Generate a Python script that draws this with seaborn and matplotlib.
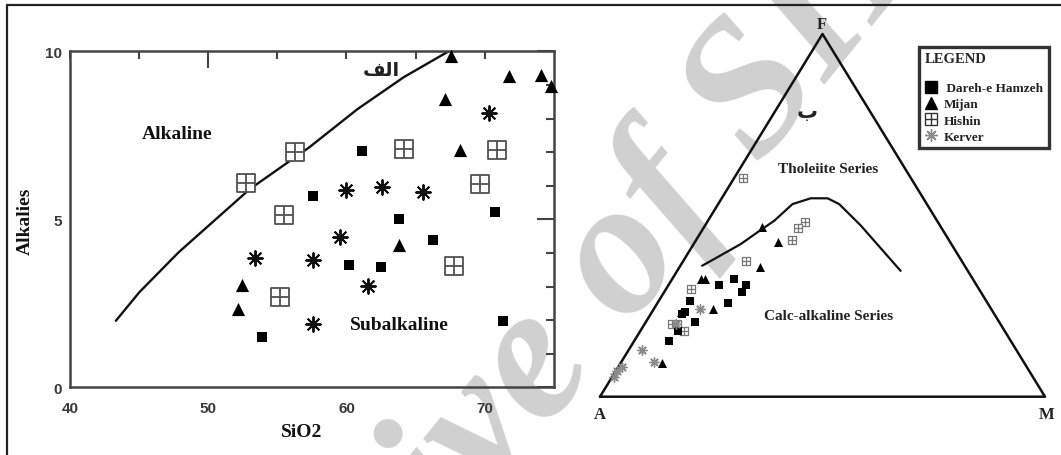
import numpy as np
import pandas as pd
import matplotlib
matplotlib.use("Agg")
import matplotlib.pyplot as plt
import seaborn as sns
from matplotlib.lines import Line2D
from matplotlib.font_manager import FontProperties

# ---------------- data: left panel (SiO2 vs Alkalies) ----------------
dareh_sio2 = [61.1, 57.55, 63.8, 70.75, 66.3, 60.2, 62.5, 53.85, 71.3]
dareh_alk = [7.04, 5.68, 5.01, 5.21, 4.38, 3.65, 3.59, 1.49, 1.98]
mijan_sio2 = [67.6, 71.8, 74.1, 74.8, 67.1, 68.2, 63.8, 52.4, 52.15]
mijan_alk = [9.87, 9.27, 9.29, 8.96, 8.58, 7.07, 4.24, 3.04, 2.33]
hishin_sio2 = [52.75, 56.25, 55.5, 55.2, 64.2, 70.9, 69.7, 67.8]
hishin_alk = [6.07, 6.99, 5.13, 2.68, 7.09, 7.06, 6.05, 3.62]
kerver_sio2 = [59.95, 62.6, 65.55, 70.3, 59.55, 53.4, 57.6, 61.55, 57.6]
kerver_alk = [5.87, 5.97, 5.82, 8.15, 4.48, 3.86, 3.78, 3.01, 1.88]
boundary_sio2 = [43.3, 45.0, 47.85, 53.0, 57.3, 60.8, 64.15, 67.4]
boundary_alk = [1.98, 2.83, 4.02, 5.90, 7.14, 8.28, 9.23, 10.0]

# ---------------- data: right panel (AFM, percent) ----------------
dareh_A = [53.6, 51.8, 53.7, 57.9, 66.5, 58.4, 69.2, 70.2, 68.3, 73.5, 76.9]
dareh_F = [32.4, 30.8, 28.8, 30.8, 26.5, 25.8, 23.3, 22.8, 20.5, 18.0, 15.4]
dareh_M = [14.0, 17.4, 17.5, 11.3, 7.0, 15.8, 7.5, 7.0, 11.2, 8.5, 7.7]
mijan_A = [40.2, 38.6, 46.2, 61.2, 60.3, 62.4, 81.5, 70.0]
mijan_F = [46.9, 42.7, 35.7, 32.4, 32.4, 24.2, 9.2, 23.4]
mijan_M = [12.9, 18.7, 18.1, 6.4, 7.3, 13.4, 9.3, 6.6]
hishin_A = [37.8, 29.8, 32.4, 35.1, 48.5, 64.7, 73.8, 72.7, 72.1]
hishin_F = [60.2, 48.2, 46.4, 43.3, 37.5, 29.7, 20.0, 20.0, 18.2]
hishin_M = [2.0, 22.0, 21.2, 21.6, 14.0, 5.6, 6.2, 7.3, 9.7]
kerver_A = [65.5, 84.1, 83.1, 91.1, 92.5, 94.2, 73.0]
kerver_F = [24.2, 13.0, 9.5, 8.1, 7.2, 5.3, 20.0]
kerver_M = [10.3, 2.9, 7.4, 0.8, 0.3, 0.5, 7.0]
tholeiite_A = [59.0, 54.5, 47.3, 42.0, 36.6, 30.2, 25.3, 21.5, 19.7, 17.8, 15.1]
tholeiite_F = [36.1, 38.4, 42.1, 45.3, 48.5, 53.1, 54.7, 54.7, 53.1, 47.2, 34.7]
tholeiite_M = [4.9, 7.1, 10.6, 12.7, 14.9, 16.7, 20.0, 23.8, 27.2, 35.0, 50.2]
frame_A = [100, 0, 0, 100]
frame_F = [0, 100, 0, 0]
frame_M = [0, 0, 100, 0]

legend_labels = [" Dareh-e Hamzeh", "Mijan", "Hishin", "Kerver"]

sns.set_style("white")
plt.rcParams["font.family"] = ["Liberation Serif", "DejaVu Sans"]

W, H = 1061, 456
fig = plt.figure(figsize=(W / 100, H / 100), dpi=100)


def fx(px):
    return px / W


def fy(py):
    return 1 - py / H


def tern(A, F, M):
    A, F, M = (np.asarray(v, float) for v in (A, F, M))
    tot = A + F + M
    return (M + 0.5 * F) / tot, F / tot


serif_b = dict(family="Liberation Serif", weight="bold")
INK = "#111111"

# ======================= LEFT PANEL =======================
axL = fig.add_axes([fx(70.3), fy(388.3), (553.6 - 70.3) / W, (388.3 - 52.3) / H])
axL.set_facecolor("none")

sns.lineplot(x=boundary_sio2, y=boundary_alk, sort=False, estimator=None,
             color=INK, linewidth=1.7, ax=axL, zorder=2)
sns.scatterplot(x=dareh_sio2, y=dareh_alk, marker="s", s=55, color="black",
                linewidth=0, ax=axL, zorder=3)
sns.scatterplot(x=mijan_sio2, y=mijan_alk, marker="^", s=90, color="black",
                linewidth=0, ax=axL, zorder=3, clip_on=False)
sns.scatterplot(x=hishin_sio2, y=hishin_alk, marker="s", s=150, facecolor="white",
                edgecolor="#505050", linewidth=1.3, ax=axL, zorder=3)
sns.scatterplot(x=hishin_sio2, y=hishin_alk, marker="+", s=150, color="#505050",
                linewidth=1.3, ax=axL, zorder=4)
sns.scatterplot(x=kerver_sio2, y=kerver_alk, marker=(8, 2, 0), s=110, color=INK,
                linewidth=1.4, ax=axL, zorder=3)

axL.set_xlim(40, 75)
axL.set_ylim(0, 10)
axL.set_xticks([40, 50, 60, 70])
axL.set_xticks([45, 55, 65], minor=True)
axL.set_yticks([0, 5, 10])
axL.set_yticks(range(0, 11), minor=True)
axL.set_xlabel("")
axL.set_ylabel("")
for sp in axL.spines.values():
    sp.set_visible(True)
    sp.set_linewidth(1.8)
    sp.set_color("#444444")
axL.tick_params(which="both", direction="in", top=True, right=True,
                color="#444444", width=1.5)
axL.tick_params(axis="x", which="both", length=6, pad=10)
axL.tick_params(axis="y", which="minor", length=6)
axL.tick_params(axis="y", which="major", length=12, pad=6)
for lab in axL.get_xticklabels() + axL.get_yticklabels():
    lab.set_fontfamily("Liberation Sans")
    lab.set_fontweight("bold")
    lab.set_fontsize(11)
    lab.set_color("#3a3a3a")
t50 = axL.xaxis.get_major_ticks()[1]
t50.tick1line.set_markersize(12)
t50.tick2line.set_markersize(12)

axL.text(47.7, 7.54, "Alkaline", fontsize=14, ha="center", va="center", color=INK, **serif_b)
axL.text(63.8, 1.88, "Subalkaline", fontsize=14, ha="center", va="center", color=INK, **serif_b)
axL.text(62.5, 9.45, "\uFED2\uFEDF\uFE8D", fontsize=14, ha="center", va="center",
         family="DejaVu Sans", weight="bold", color="#222222")
fig.text(fx(301.8), fy(433), "SiO2", fontsize=14, ha="center", va="center", color=INK, **serif_b)
fig.text(fx(25), fy(221), "Alkalies", fontsize=14, rotation=90, ha="center", va="center",
         color=INK, **serif_b)

# ======================= RIGHT PANEL =======================
axR = fig.add_axes([fx(600), fy(397.7), 445 / W, 362.7 / H])
axR.set_facecolor("none")
axR.set_xlim(0, 1)
axR.set_ylim(0, 1)
axR.axis("off")

fxr, fyr = tern(frame_A, frame_F, frame_M)
sns.lineplot(x=fxr, y=fyr, sort=False, estimator=None, color=INK, linewidth=1.8,
             ax=axR, zorder=2)
for coll in axR.lines:
    coll.set_clip_on(False)
bx, by = tern(tholeiite_A, tholeiite_F, tholeiite_M)
sns.lineplot(x=bx, y=by, sort=False, estimator=None, color=INK, linewidth=1.6,
             ax=axR, zorder=2)

hx, hy = tern(hishin_A, hishin_F, hishin_M)
sns.scatterplot(x=hx, y=hy, marker="s", s=32, facecolor="white", edgecolor="#777777",
                linewidth=0.9, ax=axR, zorder=3, clip_on=False)
sns.scatterplot(x=hx, y=hy, marker="+", s=32, color="#777777", linewidth=0.9,
                ax=axR, zorder=4, clip_on=False)
dx, dy = tern(dareh_A, dareh_F, dareh_M)
sns.scatterplot(x=dx, y=dy, marker="s", s=30, color="black", linewidth=0,
                ax=axR, zorder=5, clip_on=False)
mx, my = tern(mijan_A, mijan_F, mijan_M)
sns.scatterplot(x=mx, y=my, marker="^", s=42, color="black", linewidth=0,
                ax=axR, zorder=5, clip_on=False)
kx, ky = tern(kerver_A, kerver_F, kerver_M)
sns.scatterplot(x=kx, y=ky, marker=(8, 2, 0), s=45, color="#8a8a8a", linewidth=1.0,
                ax=axR, zorder=5, clip_on=False)

fig.text(fx(821.7), fy(25), "F", fontsize=12, ha="center", va="center", color="#222222", **serif_b)
fig.text(fx(600), fy(415), "A", fontsize=12, ha="center", va="center", color="#222222", **serif_b)
fig.text(fx(1046.7), fy(415), "M", fontsize=12, ha="center", va="center", color="#222222", **serif_b)
fig.text(fx(806.7), fy(112), "\u0628", fontsize=15, ha="center", va="center",
         family="DejaVu Sans", weight="bold", color="#222222")
fig.text(fx(828.3), fy(170), "Tholeiite Series", fontsize=11, ha="center", va="center",
         color="#222222", **serif_b)
fig.text(fx(828.3), fy(316.7), "Calc-alkaline Series", fontsize=11, ha="center", va="center",
         color="#222222", **serif_b)

# legend
h_sq = Line2D([], [], marker="s", ls="none", color="black", markersize=8)
h_tri = Line2D([], [], marker="^", ls="none", color="black", markersize=8)
h_hb = (Line2D([], [], marker="s", ls="none", mfc="white", mec="#333333", markersize=8, mew=1.0),
        Line2D([], [], marker="+", ls="none", color="#333333", markersize=8, mew=1.0))
h_ast = Line2D([], [], marker=(8, 2, 0), ls="none", color="#8a8a8a", markersize=9, mew=1.0)
lprop = FontProperties(family="Liberation Serif", weight="bold", size=9.5)
tprop = FontProperties(family="Liberation Serif", weight="bold", size=10.5)
leg = fig.legend([h_sq, h_tri, h_hb, h_ast], legend_labels, loc="upper left",
                 bbox_to_anchor=(fx(919), fy(48)), bbox_transform=fig.transFigure,
                 title="LEGEND", alignment="left", prop=lprop, title_fontproperties=tprop,
                 frameon=True, fancybox=False, edgecolor="black", borderpad=0.4,
                 labelspacing=0.3, handlelength=1.0, handletextpad=0.45, borderaxespad=0)
leg._legend_box.sep = 12
leg.get_frame().set_linewidth(2.4)
leg.get_frame().set_facecolor("white")
for t in leg.get_texts():
    t.set_color("#222222")

# watermark
fig.text(fx(552), fy(358), "Archive of SID", fontsize=138, rotation=51, ha="center",
         va="center", rotation_mode="anchor", color="#d0d0d0", family="Liberation Serif",
         style="italic", weight="bold", zorder=-1)

# figure border (top and left edges visible)
fig.add_artist(Line2D([fx(7), 1], [fy(6), fy(6)], transform=fig.transFigure,
                      color="#222222", linewidth=1.6))
fig.add_artist(Line2D([fx(7), fx(7)], [fy(6), 0], transform=fig.transFigure,
                      color="#222222", linewidth=1.6))

fig.savefig("out.png", dpi=100, facecolor="white")
